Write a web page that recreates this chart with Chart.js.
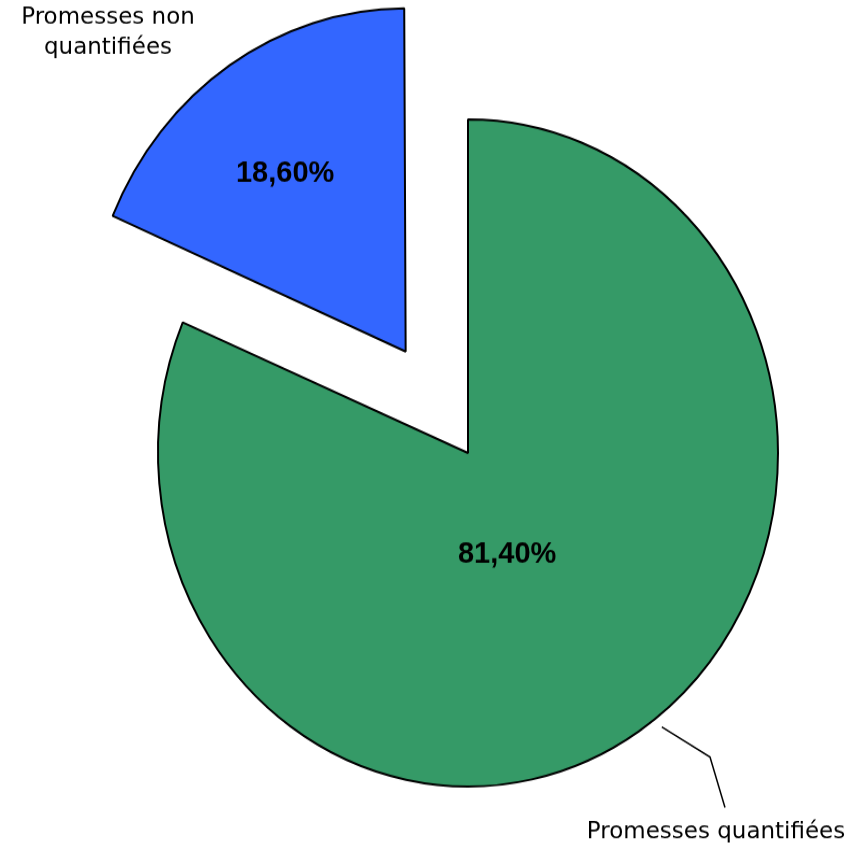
<!DOCTYPE html>
<html>
<head>
<meta charset="utf-8">
<script src="https://cdn.jsdelivr.net/npm/chart.js"></script>
<style>
  body { margin: 0; background: #fff; }
  #wrap { position: relative; width: 855px; height: 850px; }
</style>
</head>
<body>
<div id="wrap">
  <canvas id="pie" width="855" height="790" style="width:855px;height:850px"></canvas>
</div>
<script>
// data
const labels = ['Promesses quantifiées', 'Promesses non quantifiées'];
const values = [81.4, 18.6];
const colors = ['#359a67', '#3366ff'];
// chart.js moves an arc by offset/4, so 452 -> ~113px
const explode = [0, 452];

// canvas is drawn at 790 high and stretched to 850 (the original pie is a bit oval)
const sy = 790 / 850;

const deg = Math.PI / 180;

// draw text without the vertical stretch
function drawText(ctx, txt, x, y, font) {
  ctx.save();
  ctx.translate(x, y);
  ctx.scale(1, sy);
  ctx.font = font;
  ctx.fillStyle = '#000';
  ctx.textAlign = 'center';
  ctx.textBaseline = 'middle';
  ctx.fillText(txt, 0, 0);
  ctx.restore();
}

const pieLabels = {
  id: 'pieLabels',
  afterDatasetsDraw(chart) {
    const ctx = chart.ctx;
    const arcs = chart.getDatasetMeta(0).data;
    // where the % label sits: fraction of radius + small angle nudge
    const place = [{ f: 0.33, nudge: 11 }, { f: 0.66, nudge: -2.6 }];

    arcs.forEach((arc, i) => {
      const p = arc.getProps(['x', 'y', 'startAngle', 'endAngle', 'outerRadius'], true);
      const mid = (p.startAngle + p.endAngle) / 2;
      const off = (arc.options.offset || 0) / 4;
      const cx = p.x + Math.cos(mid) * off;
      const cy = p.y + Math.sin(mid) * off;
      const a = mid + place[i].nudge * deg;
      const r = p.outerRadius * place[i].f;
      const txt = values[i].toFixed(2).replace('.', ',') + '%';
      drawText(ctx, txt, cx + Math.cos(a) * r, cy + Math.sin(a) * r,
        'bold 29px "Liberation Sans", Arial, sans-serif');

      if (i === 0) {
        // leader line for the big slice
        const a1 = mid - 3.8 * deg, a2 = mid - 7.1 * deg;
        const R = p.outerRadius;
        const x1 = cx + Math.cos(a1) * (R + 10), y1 = cy + Math.sin(a1) * (R + 10);
        const x2 = cx + Math.cos(a2) * (R + 62), y2 = cy + Math.sin(a2) * (R + 62);
        ctx.save();
        ctx.strokeStyle = '#000';
        ctx.lineWidth = 1.5;
        ctx.beginPath();
        ctx.moveTo(x1, y1);
        ctx.lineTo(x2, y2);
        ctx.lineTo(x2 + 15, y2 + 47);
        ctx.stroke();
        ctx.restore();
      }
    });

    const f = '23px "DejaVu Sans", Verdana, sans-serif';
    drawText(ctx, 'Promesses quantifiées', 716, 832 * sy, f);
    drawText(ctx, 'Promesses non', 108, 18 * sy, f);
    drawText(ctx, 'quantifiées', 108, 48 * sy, f);
  }
};

new Chart(document.getElementById('pie'), {
  type: 'pie',
  data: {
    labels: labels,
    datasets: [{
      data: values,
      backgroundColor: colors,
      borderColor: '#000',
      borderWidth: 2,
      offset: explode
    }]
  },
  options: {
    responsive: false,
    animation: false,
    radius: 310,
    layout: { padding: { left: 81, top: 52, right: 0, bottom: 0 } },
    plugins: {
      legend: { display: false },
      tooltip: { enabled: false }
    }
  },
  plugins: [pieLabels]
});
</script>
</body>
</html>
